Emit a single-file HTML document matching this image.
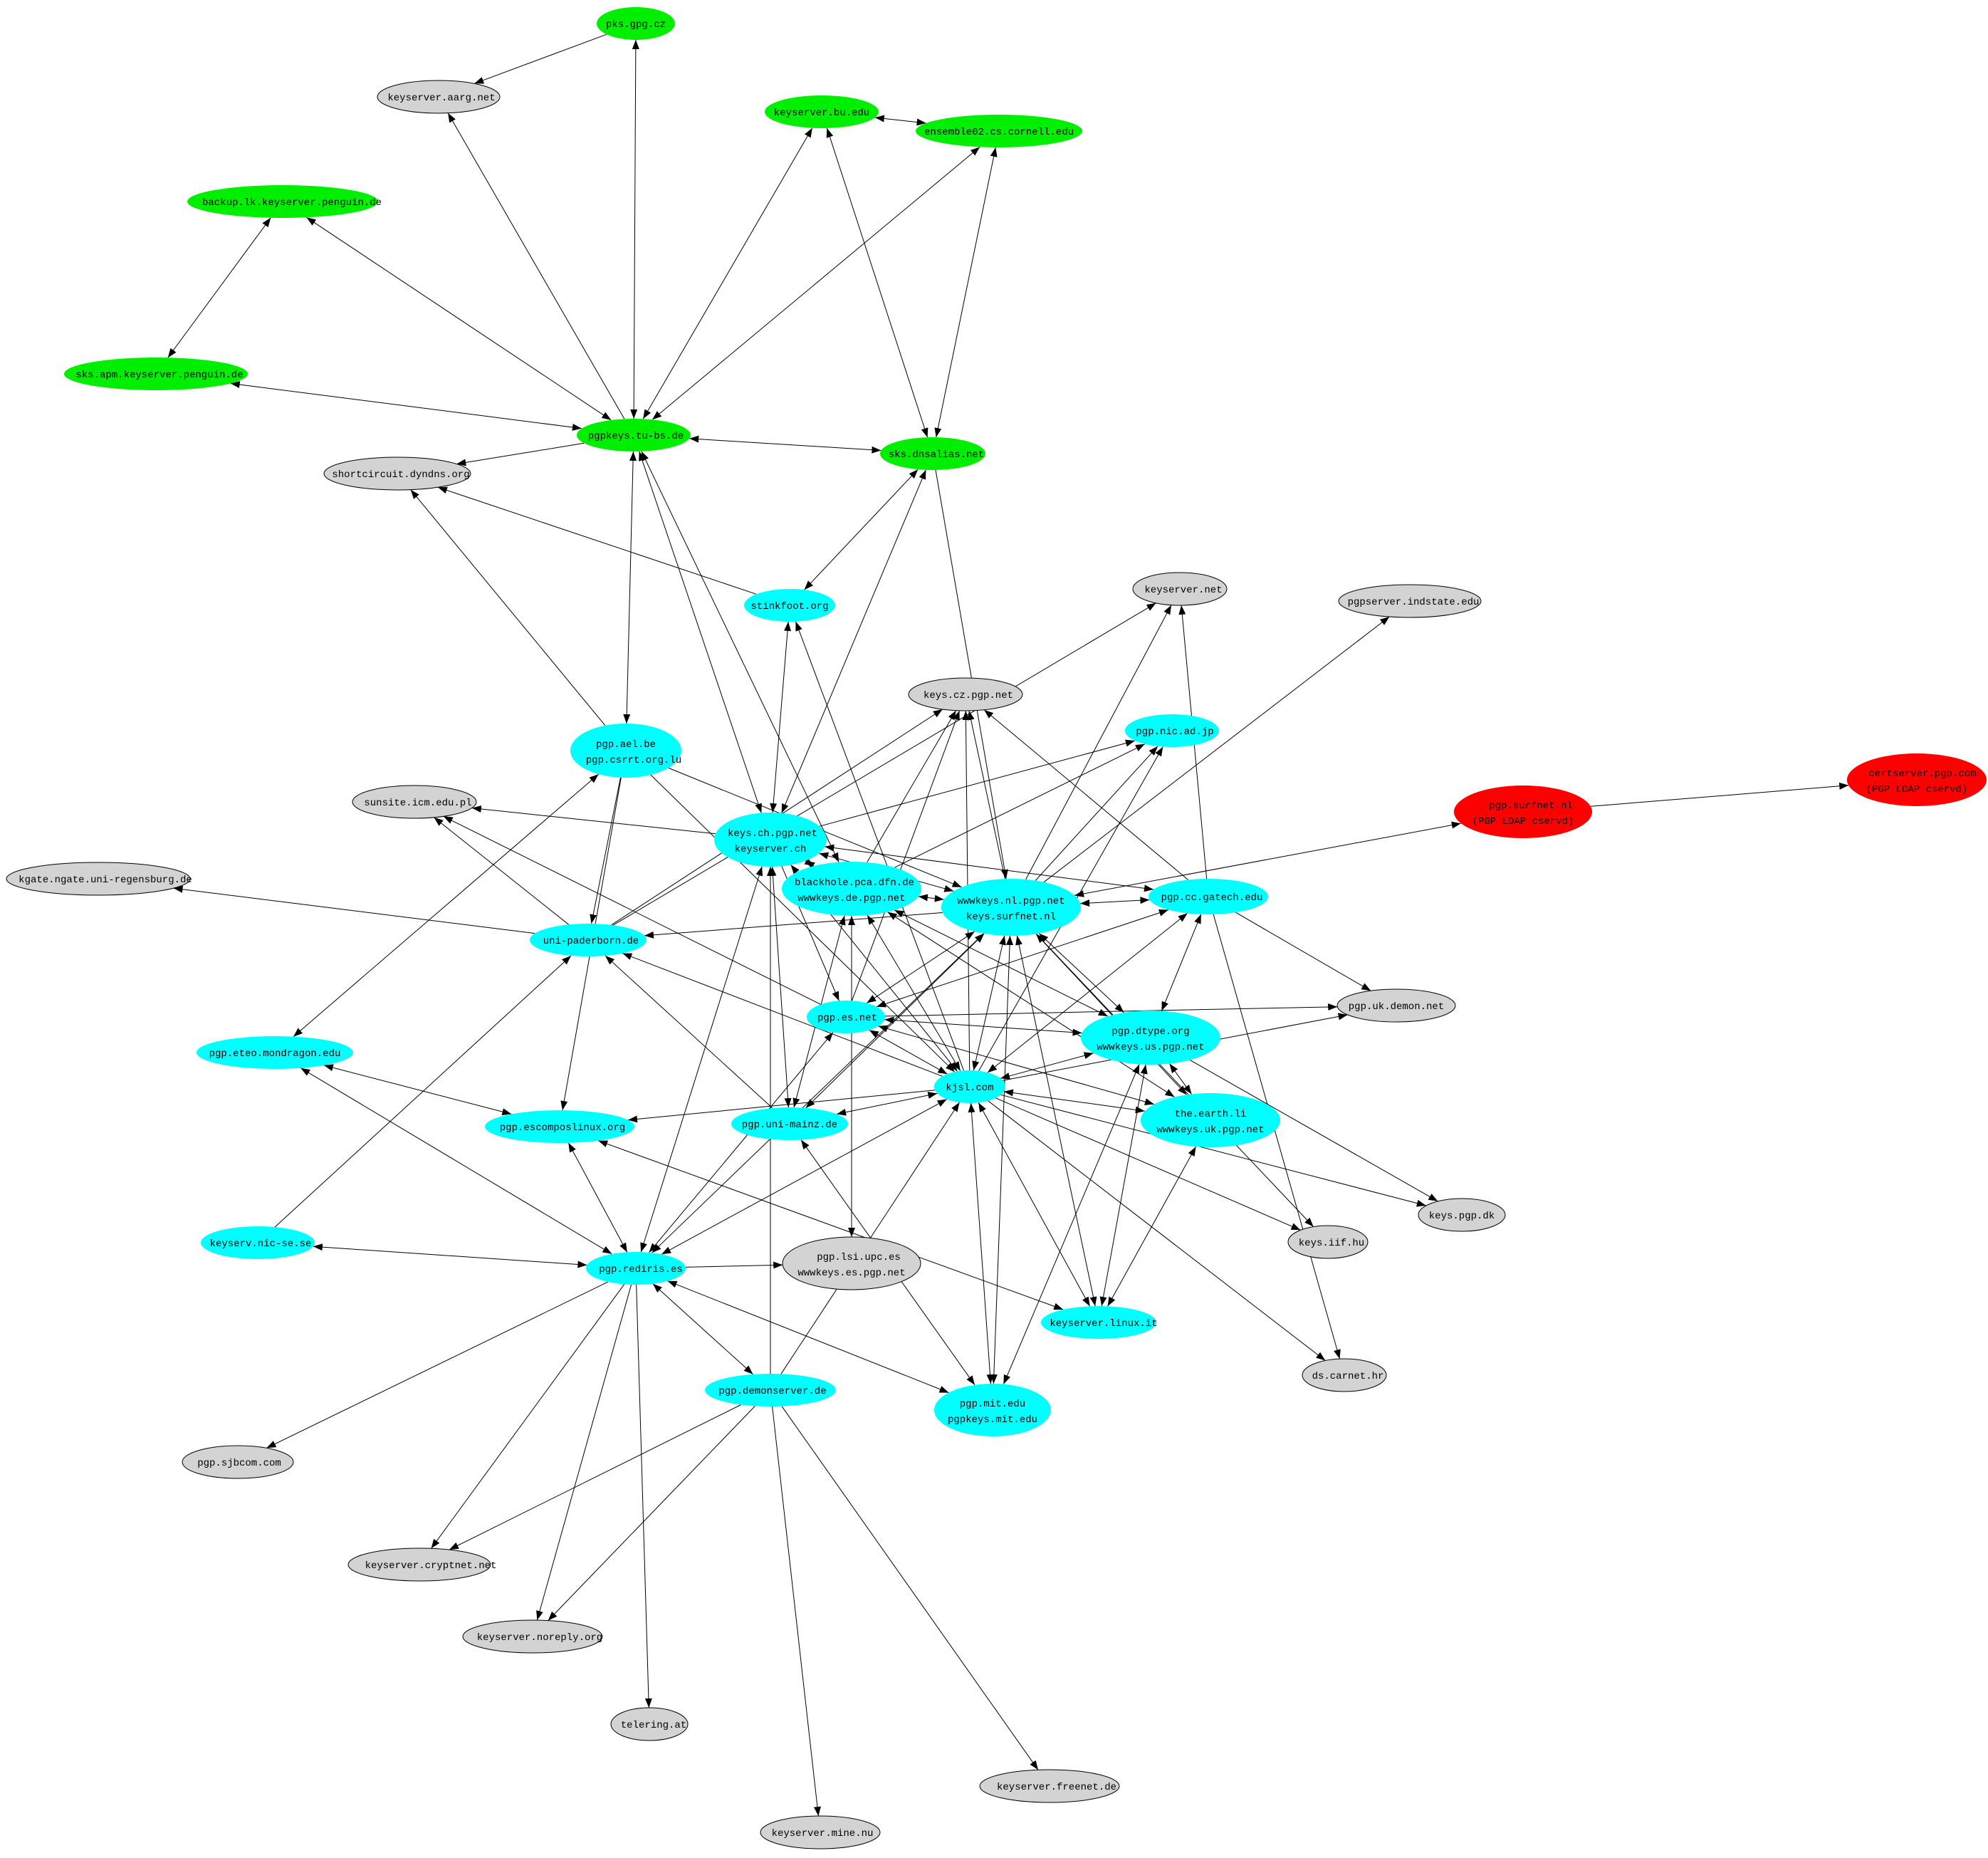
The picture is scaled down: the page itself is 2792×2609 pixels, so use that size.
<!DOCTYPE html>
<html><head><meta charset="utf-8"><style>
html,body{margin:0;padding:0;background:#fff;}
svg{display:block}
text{font-family:"Liberation Mono","DejaVu Sans Mono",monospace;font-size:14px;fill:#000;text-anchor:middle;}
</style></head><body>
<svg id="g" width="2792" height="2609" viewBox="0 0 2792 2609" xmlns="http://www.w3.org/2000/svg">
<defs>
<marker id="ah" markerUnits="userSpaceOnUse" markerWidth="14" markerHeight="10" refX="13" refY="5" orient="auto-start-reverse"><path d="M0,0 L13,5 L0,10 z" fill="#000"/></marker>
</defs>
<g id="edges" stroke="#000" stroke-width="1" fill="none"></g>
<g id="nodes">
<ellipse cx="893" cy="33" rx="55" ry="23" fill="#00ee00"/><text x="893" y="38">pks.gpg.cz</text>
<ellipse cx="1154" cy="157" rx="80" ry="23" fill="#00ee00"/><text x="1154" y="162">keyserver.bu.edu</text>
<ellipse cx="1403" cy="184" rx="117" ry="23" fill="#00ee00"/><text x="1403" y="189">ensemble02.cs.cornell.edu</text>
<ellipse cx="397" cy="283" rx="134" ry="23" fill="#00ee00"/><text x="410" y="288">backup.lk.keyserver.penguin.de</text>
<ellipse cx="219" cy="525" rx="129" ry="23" fill="#00ee00"/><text x="224" y="530">sks.apm.keyserver.penguin.de</text>
<ellipse cx="890" cy="611" rx="80" ry="23" fill="#00ee00"/><text x="893" y="616">pgpkeys.tu-bs.de</text>
<ellipse cx="1310" cy="637" rx="74" ry="23" fill="#00ee00"/><text x="1315" y="642">sks.dnsalias.net</text>
<ellipse cx="616" cy="136" rx="86" ry="23" fill="#d3d3d3" stroke="#000" stroke-width="1"/><text x="620" y="141">keyserver.aarg.net</text>
<ellipse cx="558" cy="665" rx="103" ry="23" fill="#d3d3d3" stroke="#000" stroke-width="1"/><text x="563" y="670">shortcircuit.dyndns.org</text>
<ellipse cx="1657" cy="827" rx="66" ry="23" fill="#d3d3d3" stroke="#000" stroke-width="1"/><text x="1662" y="832">keyserver.net</text>
<ellipse cx="1980" cy="844" rx="100" ry="23" fill="#d3d3d3" stroke="#000" stroke-width="1"/><text x="1985" y="849">pgpserver.indstate.edu</text>
<ellipse cx="1356" cy="975" rx="80" ry="23" fill="#d3d3d3" stroke="#000" stroke-width="1"/><text x="1360" y="980">keys.cz.pgp.net</text>
<ellipse cx="582" cy="1126" rx="87" ry="23" fill="#d3d3d3" stroke="#000" stroke-width="1"/><text x="587" y="1131">sunsite.icm.edu.pl</text>
<ellipse cx="138" cy="1234" rx="129" ry="23" fill="#d3d3d3" stroke="#000" stroke-width="1"/><text x="148" y="1239">kgate.ngate.uni-regensburg.de</text>
<ellipse cx="1961" cy="1412" rx="83" ry="23" fill="#d3d3d3" stroke="#000" stroke-width="1"/><text x="1961" y="1417">pgp.uk.demon.net</text>
<ellipse cx="2053" cy="1706" rx="61" ry="23" fill="#d3d3d3" stroke="#000" stroke-width="1"/><text x="2053" y="1711">keys.pgp.dk</text>
<ellipse cx="1865" cy="1744" rx="56" ry="23" fill="#d3d3d3" stroke="#000" stroke-width="1"/><text x="1870" y="1749">keys.iif.hu</text>
<ellipse cx="1196" cy="1774" rx="97" ry="37" fill="#d3d3d3" stroke="#000" stroke-width="1"/><text x="1206" y="1769">pgp.lsi.upc.es</text><text x="1196" y="1791">wwwkeys.es.pgp.net</text>
<ellipse cx="1888" cy="1931" rx="59" ry="23" fill="#d3d3d3" stroke="#000" stroke-width="1"/><text x="1893" y="1936">ds.carnet.hr</text>
<ellipse cx="334" cy="2053" rx="78" ry="23" fill="#d3d3d3" stroke="#000" stroke-width="1"/><text x="336" y="2058">pgp.sjbcom.com</text>
<ellipse cx="589" cy="2197" rx="100" ry="23" fill="#d3d3d3" stroke="#000" stroke-width="1"/><text x="605" y="2202">keyserver.cryptnet.net</text>
<ellipse cx="748" cy="2298" rx="98" ry="23" fill="#d3d3d3" stroke="#000" stroke-width="1"/><text x="758" y="2303">keyserver.noreply.org</text>
<ellipse cx="912" cy="2421" rx="54" ry="23" fill="#d3d3d3" stroke="#000" stroke-width="1"/><text x="918" y="2426">telering.at</text>
<ellipse cx="1152" cy="2573" rx="84" ry="23" fill="#d3d3d3" stroke="#000" stroke-width="1"/><text x="1155" y="2578">keyserver.mine.nu</text>
<ellipse cx="1474" cy="2508" rx="98" ry="23" fill="#d3d3d3" stroke="#000" stroke-width="1"/><text x="1484" y="2513">keyserver.freenet.de</text>
<ellipse cx="2139" cy="1140" rx="97" ry="37" fill="#ff0000"/><text x="2150" y="1135">pgp.surfnet.nl</text><text x="2139" y="1157">(PGP LDAP cservd)</text>
<ellipse cx="2692" cy="1095" rx="98" ry="37" fill="#ff0000"/><text x="2700" y="1090">certserver.pgp.com</text><text x="2692" y="1112">(PGP LDAP cservd)</text>
<ellipse cx="1109" cy="850" rx="64" ry="23" fill="#00ffff"/><text x="1109" y="855">stinkfoot.org</text>
<ellipse cx="1646" cy="1026" rx="66" ry="23" fill="#00ffff"/><text x="1650" y="1031">pgp.nic.ad.jp</text>
<ellipse cx="879" cy="1054" rx="78" ry="38" fill="#00ffff"/><text x="879" y="1049">pgp.ael.be</text><text x="890" y="1071">pgp.csrrt.org.lu</text>
<ellipse cx="1082" cy="1179" rx="79" ry="38" fill="#00ffff"/><text x="1085" y="1174">keys.ch.pgp.net</text><text x="1082" y="1196">keyserver.ch</text>
<ellipse cx="1196" cy="1248" rx="98" ry="38" fill="#00ffff"/><text x="1200" y="1243">blackhole.pca.dfn.de</text><text x="1196" y="1265">wwwkeys.de.pgp.net</text>
<ellipse cx="1420" cy="1274" rx="98" ry="40" fill="#00ffff"/><text x="1420" y="1269">wwwkeys.nl.pgp.net</text><text x="1420" y="1291">keys.surfnet.nl</text>
<ellipse cx="1697" cy="1259" rx="84" ry="25" fill="#00ffff"/><text x="1702" y="1264">pgp.cc.gatech.edu</text>
<ellipse cx="826" cy="1320" rx="82" ry="23" fill="#00ffff"/><text x="830" y="1325">uni-paderborn.de</text>
<ellipse cx="1188" cy="1428" rx="55" ry="23" fill="#00ffff"/><text x="1190" y="1433">pgp.es.net</text>
<ellipse cx="1616" cy="1457" rx="98" ry="38" fill="#00ffff"/><text x="1616" y="1452">pgp.dtype.org</text><text x="1616" y="1474">wwwkeys.us.pgp.net</text>
<ellipse cx="386" cy="1478" rx="110" ry="23" fill="#00ffff"/><text x="386" y="1483">pgp.eteo.mondragon.edu</text>
<ellipse cx="1362" cy="1526" rx="50" ry="23" fill="#00ffff"/><text x="1362" y="1531">kjsl.com</text>
<ellipse cx="1700" cy="1573" rx="98" ry="38" fill="#00ffff"/><text x="1700" y="1568">the.earth.li</text><text x="1700" y="1590">wwwkeys.uk.pgp.net</text>
<ellipse cx="786" cy="1582" rx="105" ry="23" fill="#00ffff"/><text x="790" y="1587">pgp.escomposlinux.org</text>
<ellipse cx="1109" cy="1578" rx="82" ry="23" fill="#00ffff"/><text x="1109" y="1583">pgp.uni-mainz.de</text>
<ellipse cx="362" cy="1745" rx="80" ry="23" fill="#00ffff"/><text x="366" y="1750">keyserv.nic-se.se</text>
<ellipse cx="893" cy="1781" rx="70" ry="23" fill="#00ffff"/><text x="900" y="1786">pgp.rediris.es</text>
<ellipse cx="1543" cy="1857" rx="81" ry="23" fill="#00ffff"/><text x="1550" y="1862">keyserver.linux.it</text>
<ellipse cx="1082" cy="1952" rx="92" ry="23" fill="#00ffff"/><text x="1085" y="1957">pgp.demonserver.de</text>
<ellipse cx="1394" cy="1980" rx="82" ry="37" fill="#00ffff"/><text x="1394" y="1975">pgp.mit.edu</text><text x="1394" y="1997">pgpkeys.mit.edu</text>
</g>
</svg>
<script>
var N={
pks:[893,33,55,23],bu:[1154,157,80,23],ens:[1403,184,117,23],bak:[397,283,134,23],apm:[219,525,129,23],tubs:[890,611,80,23],dns:[1310,637,74,23],
aarg:[616,136,86,23],sc:[558,665,103,23],ksn:[1657,827,66,23],ind:[1980,844,100,23],cz:[1356,975,80,23],sun:[582,1126,87,23],kg:[138,1234,129,23],
ukd:[1961,1412,83,23],dk:[2053,1706,61,23],hu:[1865,1744,56,23],lsi:[1196,1774,97,37],hr:[1888,1931,59,23],sjb:[334,2053,78,23],cry:[589,2197,100,23],
nor:[748,2298,98,23],tel:[912,2421,54,23],mine:[1152,2573,84,23],free:[1474,2508,98,23],sur:[2139,1140,97,37],cert:[2692,1095,98,37],
stink:[1109,850,64,23],jp:[1646,1026,66,23],ael:[879,1054,78,38],ch:[1082,1179,79,38],bh:[1196,1248,98,38],nl:[1420,1274,98,40],ga:[1697,1259,84,25],
pad:[826,1320,82,23],es:[1188,1428,55,23],dt:[1616,1457,98,38],eteo:[386,1478,110,23],kj:[1362,1526,50,23],li:[1700,1573,98,38],esc:[786,1582,105,23],
mz:[1109,1578,82,23],se:[362,1745,80,23],red:[893,1781,70,23],lit:[1543,1857,81,23],dem:[1082,1952,92,23],mit:[1394,1980,82,37]};
var E=[
['pks','aarg',0],['pks','tubs',1],['bu','ens',1],['bu','tubs',1],['bu','dns',1],['ens','tubs',1],['ens','dns',1],['bak','apm',1],['bak','tubs',1],
['apm','tubs',1],['tubs','sc',0],['tubs','dns',1],['tubs','ael',1],['tubs','ch',1],['tubs','bh',1],['tubs','aarg',0],['ael','sc',0],['stink','sc',0],
['dns','stink',1],['dns','ch',1],['dns','nl',0],['stink','ch',1],['kj','stink',0],
['pad','cz',0],['bh','cz',0],['kj','cz',0],['nl','cz',0],['ga','cz',0],['es','cz',0],
['pad','ksn',0],['nl','ksn',0],['ga','ksn',0],['nl','ind',0],['bh','jp',0],['nl','jp',0],['kj','jp',0],['ch','jp',0],
['nl','sur',1],['sur','cert',0],['ch','sun',0],['pad','sun',0],['es','sun',0],['pad','kg',0],
['ael','pad',0],['nl','pad',0],['kj','pad',0],['mz','pad',0],['se','pad',0],
['ael','eteo',1],['ael','esc',0],['ael','kj',0],['ael','nl',0],
['ch','nl',1],['ch','ga',1],['ch','bh',1],['ch','red',1],['ch','mz',1],['ch','kj',1],['ch','es',0],
['bh','nl',1],['bh','kj',1],['bh','dt',1],['bh','mz',1],['bh','lsi',1],['bh','li',1],
['nl','ga',1],['nl','dt',1],['nl','kj',1],['nl','es',1],['nl','mz',1],['nl','red',1],['nl','lit',1],['nl','mit',1],['nl','li',1],['nl','hu',0],
['ga','dt',1],['ga','kj',1],['ga','ukd',0],['ga','hr',0],['ga','es',1],
['dt','li',1],['dt','kj',1],['dt','lit',1],['dt','mit',1],['dt','dk',0],['dt','es',1],
['kj','li',1],['kj','ukd',0],['kj','dk',0],['kj','hu',0],['kj','hr',0],['kj','lit',1],['kj','mit',1],['kj','red',1],['kj','esc',0],['kj','mz',1],['kj','es',1],
['li','lit',1],['es','ukd',0],['es','red',1],['es','li',1],
['eteo','esc',1],['eteo','red',1],['esc','red',1],['esc','lit',1],['se','red',1],
['red','lsi',0],['red','dem',1],['red','mit',1],['red','sjb',0],['red','cry',0],['red','nor',0],['red','tel',0],
['dem','cry',0],['dem','nor',0],['dem','mine',0],['dem','free',0],['dem','ch',0],['dem','kj',0],['mz','mit',1]];
function bp(n,dx,dy){var t=1/Math.sqrt((dx/n[2])*(dx/n[2])+(dy/n[3])*(dy/n[3]));return [n[0]+dx*t,n[1]+dy*t];}
var g=document.getElementById('edges'),s='';
E.forEach(function(e){var a=N[e[0]],b=N[e[1]];var dx=b[0]-a[0],dy=b[1]-a[1];
var p=bp(a,dx,dy),q=bp(b,-dx,-dy);
s+='<line x1="'+p[0].toFixed(1)+'" y1="'+p[1].toFixed(1)+'" x2="'+q[0].toFixed(1)+'" y2="'+q[1].toFixed(1)+'" marker-end="url(#ah)"'+(e[2]?' marker-start="url(#ah)"':'')+'/>';});
g.innerHTML=s;
</script>
</body></html>
